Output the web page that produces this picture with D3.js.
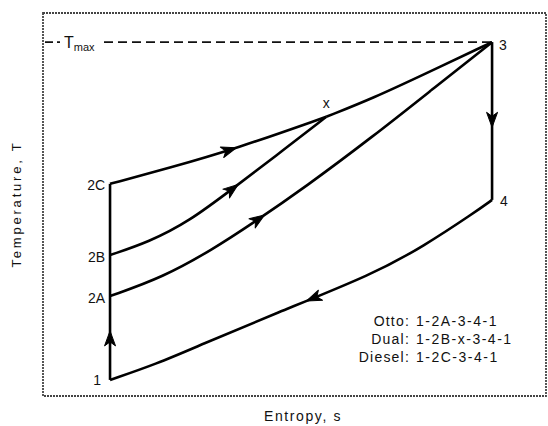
<!DOCTYPE html>
<html>
<head>
<meta charset="utf-8">
<script src="https://cdn.jsdelivr.net/npm/d3@7"></script>
<style>
  body { margin: 0; background: #fff; }
  text { font-family: "Liberation Sans", Arial, sans-serif; fill: #111; }
</style>
</head>
<body>
<div id="vis"></div>
<script>

// Data ----------------------------------------------------------------------

// state points (entropy s, temperature T), arbitrary units
var stateNames = ["1", "2A", "2B", "2C", "x", "3", "4"];
var stateS     = [13.3, 13.3, 13.3, 13.3, 56.2, 89.1, 89.1];
var stateT     = [4.2, 26.1, 36.8, 55.4, 72.9, 92.4, 51.2];

var Tmax = 92.4;

// process paths
var compression = [[13.3, 4.2], [13.3, 55.4]];                       // 1 -> 2C
var heatDiesel  = [[13.3, 55.4], [25.2, 59.6], [38.1, 64.5], [56.2, 72.9]];  // 2C -> x
var heatDual    = [[13.3, 36.8], [21.0, 40.2], [29.0, 45.6], [37.5, 54.0], [46.0, 62.5], [56.2, 72.9]];  // 2B -> x
var heatX3      = [[56.2, 72.9], [65.7, 77.9], [75.6, 84.0], [89.1, 92.4]];  // x -> 3
var heatOtto    = [[13.3, 26.1], [23.8, 31.0], [33.7, 38.3], [41.7, 45.2], [52.0, 54.5], [65.7, 68.0], [77.0, 79.8], [89.1, 92.4]]; // 2A -> 3
var expansion   = [[89.1, 92.4], [89.1, 51.2]];                       // 3 -> 4
var rejection   = [[89.1, 51.2], [85.5, 47.8], [75.6, 39.2], [65.7, 31.9], [45.8, 21.4], [31.2, 13.3], [22.6, 8.4], [13.3, 4.2]]; // 4 -> 1

// arrow position along each path (fraction of length)
var arrowPaths = [compression, heatDiesel, heatDual, heatOtto, expansion, rejection];
var arrowAt    = [0.25, 0.58, 0.57, 0.38, 0.54, 0.50];

var legendNames = ["Otto:", "Dual:", "Diesel:"];
var legendSeqs  = ["1-2A-3-4-1", "1-2B-x-3-4-1", "1-2C-3-4-1"];


// Setup ---------------------------------------------------------------------

var W = 548, H = 426;
var frame = {left: 43, top: 13, right: 546, bottom: 396};

var svg = d3.select("#vis").append("svg")
  .attr("width", W)
  .attr("height", H);

var x = d3.scaleLinear().domain([0, 100]).range([frame.left, frame.left + 504]);
var y = d3.scaleLinear().domain([0, 100]).range([frame.bottom, frame.bottom - 383]);

var line = d3.line()
  .x(function(d) { return x(d[0]); })
  .y(function(d) { return y(d[1]); })
  .curve(d3.curveBasis);


// Frame ---------------------------------------------------------------------

svg.append("rect")
  .attr("x", frame.left)
  .attr("y", frame.top)
  .attr("width", frame.right - frame.left)
  .attr("height", frame.bottom - frame.top)
  .attr("fill", "none")
  .attr("stroke", "#444")
  .attr("stroke-width", 1.8)
  .attr("stroke-dasharray", "2,1");

// Tmax dashed line
svg.append("line")
  .attr("x1", frame.left + 2).attr("x2", 60)
  .attr("y1", y(Tmax)).attr("y2", y(Tmax))
  .attr("stroke", "#111").attr("stroke-width", 1.8)
  .attr("stroke-dasharray", "8,4");

svg.append("line")
  .attr("x1", 104).attr("x2", x(stateS[5]))
  .attr("y1", y(Tmax)).attr("y2", y(Tmax))
  .attr("stroke", "#111").attr("stroke-width", 1.8)
  .attr("stroke-dasharray", "9,5");

var tmaxLabel = svg.append("text")
  .attr("x", 64)
  .attr("y", y(Tmax) + 6)
  .style("font-size", "16px");
tmaxLabel.append("tspan").text("T");
tmaxLabel.append("tspan").attr("dy", 3).style("font-size", "11px").text("max");


// Paths ---------------------------------------------------------------------

var paths = [compression, heatDiesel, heatDual, heatX3, heatOtto, expansion, rejection];

svg.selectAll(".process")
  .data(paths)
  .enter()
  .append("path")
  .attr("class", "process")
  .attr("d", line)
  .attr("fill", "none")
  .attr("stroke", "#000")
  .attr("stroke-width", 2.6)
  .attr("stroke-linejoin", "round");

// arrowheads
var tmp = svg.append("path").attr("fill", "none");

arrowPaths.forEach(function(p, i) {
  tmp.attr("d", line(p));
  var node = tmp.node(),
      len = node.getTotalLength(),
      tip = node.getPointAtLength(len * arrowAt[i]),
      back = node.getPointAtLength(len * arrowAt[i] - 4),
      ang = Math.atan2(tip.y - back.y, tip.x - back.x) * 180 / Math.PI;

  svg.append("path")
    .attr("d", "M0,0 L-15,-5.5 L-11,0 L-15,5.5 Z")
    .attr("fill", "#000")
    .attr("stroke", "#000")
    .attr("stroke-width", 1)
    .attr("stroke-linejoin", "round")
    .attr("transform", "translate(" + tip.x + "," + tip.y + ") rotate(" + ang + ")");
});
tmp.remove();


// State labels --------------------------------------------------------------

var labelDx = [-9, -5, -5, -5, 0, 7, 8];
var labelDy = [5, 7, 7, 6, -9, 8, 6];
var labelAnchor = ["end", "end", "end", "end", "middle", "start", "start"];

svg.selectAll(".state")
  .data(stateNames)
  .enter()
  .append("text")
  .attr("class", "state")
  .attr("x", function(d, i) { return x(stateS[i]) + labelDx[i]; })
  .attr("y", function(d, i) { return y(stateT[i]) + labelDy[i]; })
  .attr("text-anchor", function(d, i) { return labelAnchor[i]; })
  .style("font-size", "14px")
  .text(function(d) { return d; });


// Axis labels ---------------------------------------------------------------

svg.append("text")
  .attr("x", 303)
  .attr("y", 421)
  .attr("text-anchor", "middle")
  .style("font-size", "14px")
  .style("letter-spacing", "1.6px")
  .text("Entropy, s");

svg.append("text")
  .attr("transform", "translate(21,204) rotate(-90)")
  .attr("text-anchor", "middle")
  .style("font-size", "13px")
  .style("letter-spacing", "2.8px")
  .text("Temperature, T");


// Legend --------------------------------------------------------------------

var legend = svg.append("g");

legend.selectAll(".lname")
  .data(legendNames)
  .enter()
  .append("text")
  .attr("x", 410)
  .attr("y", function(d, i) { return 326 + i * 18; })
  .attr("text-anchor", "end")
  .style("font-size", "14px")
  .style("letter-spacing", "1.2px")
  .text(function(d) { return d; });

legend.selectAll(".lseq")
  .data(legendSeqs)
  .enter()
  .append("text")
  .attr("x", 416)
  .attr("y", function(d, i) { return 326 + i * 18; })
  .style("font-size", "14px")
  .style("letter-spacing", "1.5px")
  .text(function(d) { return d; });

</script>
</body>
</html>
